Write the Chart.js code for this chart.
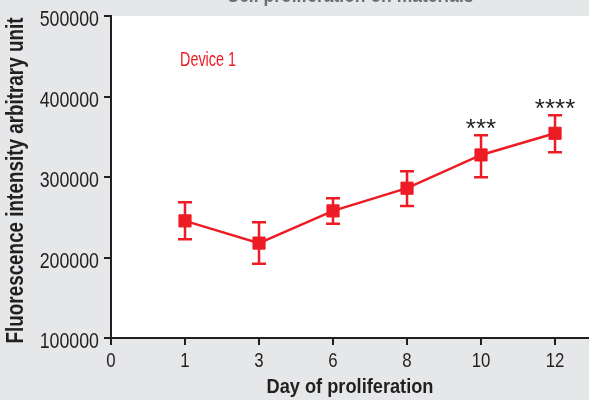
<!DOCTYPE html>
<html>
<head>
<meta charset="utf-8">
<script src="https://cdn.jsdelivr.net/npm/chart.js@4"></script>
<style>
  html, body { margin: 0; padding: 0; background: #e6e7e8; }
  #wrap { width: 589px; height: 400px; position: relative; }
</style>
</head>
<body>
<div id="wrap"><canvas id="c" width="589" height="400"></canvas></div>
<script>
// ---- data ----
const days = ['0', '1', '3', '6', '8', '10', '12'];
const pointIndex = [1, 2, 3, 4, 5, 6];
const meanValues = [245500, 217900, 257900, 286100, 327400, 354300];
const errLow = [222800, 192200, 241800, 264100, 299800, 330800];
const errHigh = [268700, 243900, 273700, 307200, 351900, 376700];
const significance = ['', '', '', '', '***', '****'];
const seriesName = 'Device 1';
const yTicks = [100000, 200000, 300000, 400000, 500000];
const chartTitle = 'Cell proliferation on materials';
const xTitle = 'Day of proliferation';
const yTitle = 'Fluorescence intensity arbitrary unit';

const RED = '#ed1c24';
const INK = '#231f20';
const FAM = '"Liberation Sans", Arial, sans-serif';

// draw text horizontally condensed (to imitate a condensed typeface)
function condText(ctx, text, x, y, font, sx, align, rotate) {
  ctx.save();
  ctx.translate(x, y);
  if (rotate) ctx.rotate(-Math.PI / 2);
  ctx.font = font;
  ctx.scale(sx, 1);
  ctx.textAlign = align;
  ctx.textBaseline = 'alphabetic';
  ctx.fillText(text, 0, 0);
  ctx.restore();
}
function fitScale(ctx, text, font, width) {
  ctx.save(); ctx.font = font;
  const w = ctx.measureText(text).width;
  ctx.restore();
  return width / w;
}

const bgPlugin = {
  id: 'bg',
  beforeDraw(chart) {
    const { ctx, chartArea: a } = chart;
    ctx.save();
    ctx.fillStyle = '#e6e7e8';
    ctx.fillRect(0, 0, chart.width, chart.height);
    ctx.fillStyle = '#ffffff';
    ctx.fillRect(a.left, a.top, a.right - a.left, a.bottom - a.top);
    ctx.fillStyle = '#6d6e71';
    const tf = 'bold 20px ' + FAM;
    condText(ctx, chartTitle, (a.left + a.right) / 2, 2, tf, fitScale(ctx, chartTitle, tf, 247), 'center');
    ctx.restore();
  }
};

const labelPlugin = {
  id: 'labels',
  afterDraw(chart) {
    const { ctx, chartArea: a, scales: { x, y } } = chart;
    ctx.save();
    ctx.fillStyle = INK;
    // y tick labels
    yTicks.forEach(v => {
      condText(ctx, String(v), 99, y.getPixelForValue(v) + 10, '22.5px ' + FAM, 0.79, 'right');
    });
    // x tick labels
    days.forEach((d, i) => {
      condText(ctx, d, x.getPixelForValue(i), 367, '21px ' + FAM, 0.8, 'center');
    });
    // axis titles
    const xf = 'bold 20px ' + FAM;
    condText(ctx, xTitle, (a.left + a.right) / 2, 393, xf, fitScale(ctx, xTitle, xf, 167), 'center');
    const yf = 'bold 23px ' + FAM;
    condText(ctx, yTitle, 23, 180.5, yf, fitScale(ctx, yTitle, yf, 326), 'center', true);
    ctx.restore();
  }
};

const errPlugin = {
  id: 'errbars',
  afterDatasetsDraw(chart) {
    const { ctx, scales: { x, y } } = chart;
    ctx.save();
    ctx.strokeStyle = RED;
    ctx.lineWidth = 2.5;
    pointIndex.forEach((xi, i) => {
      const px = x.getPixelForValue(xi);
      const top = y.getPixelForValue(errHigh[i]);
      const bot = y.getPixelForValue(errLow[i]);
      ctx.beginPath();
      ctx.moveTo(px, top); ctx.lineTo(px, bot);
      ctx.moveTo(px - 7, top); ctx.lineTo(px + 7, top);
      ctx.moveTo(px - 7, bot); ctx.lineTo(px + 7, bot);
      ctx.stroke();
      if (significance[i]) {
        ctx.fillStyle = INK;
        condText(ctx, significance[i], px, top + 1.5, '26px ' + FAM, 1, 'center');
      }
    });
    // series label
    ctx.fillStyle = RED;
    const df = '20px ' + FAM;
    condText(ctx, seriesName, 180, 66, df, fitScale(ctx, seriesName, df, 56), 'left');
    ctx.restore();
  }
};

new Chart(document.getElementById('c'), {
  type: 'line',
  data: {
    datasets: [{
      label: seriesName,
      data: pointIndex.map((xi, i) => ({ x: xi, y: meanValues[i] })),
      borderColor: RED,
      backgroundColor: RED,
      borderWidth: 2.5,
      pointStyle: 'rect',
      pointRadius: 8.6,
      pointBorderWidth: 1,
      pointBorderColor: RED,
      pointBackgroundColor: RED,
      tension: 0
    }]
  },
  options: {
    responsive: false,
    animation: false,
    devicePixelRatio: 1,
    layout: { autoPadding: false, padding: { left: 0, right: 0, top: 16, bottom: 0 } },
    plugins: {
      legend: { display: false },
      tooltip: { enabled: false }
    },
    scales: {
      x: {
        type: 'linear',
        min: 0,
        max: 6.459,
        afterBuildTicks(s) { s.ticks = days.map((d, i) => ({ value: i })); },
        afterFit(s) { s.height = 62; s.paddingLeft = 0; s.paddingRight = 0; },
        border: { display: true, color: INK, width: 2 },
        grid: { drawOnChartArea: false, drawTicks: true, tickLength: 7, color: INK, lineWidth: 2 },
        ticks: { display: false, autoSkip: false },
        title: { display: false, text: xTitle }
      },
      y: {
        type: 'linear',
        min: 100000,
        max: 500000,
        afterBuildTicks(s) { s.ticks = yTicks.map(v => ({ value: v })); },
        afterFit(s) { s.width = 111; s.paddingTop = 0; s.paddingBottom = 0; },
        border: { display: true, color: INK, width: 2 },
        grid: { drawOnChartArea: false, drawTicks: true, tickLength: 7, color: INK, lineWidth: 2 },
        ticks: { display: false },
        title: { display: false, text: yTitle }
      }
    }
  },
  plugins: [bgPlugin, errPlugin, labelPlugin]
});
</script>
</body>
</html>
